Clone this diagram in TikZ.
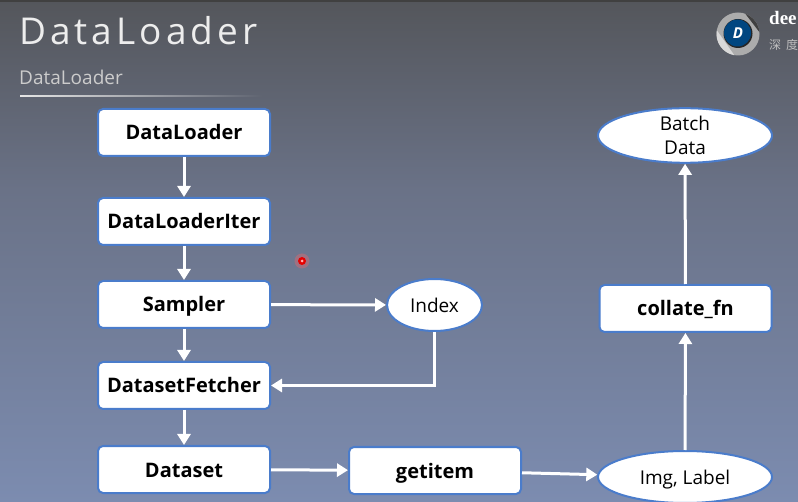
\documentclass[tikz,border=0pt]{standalone}
\usepackage{fontspec}
\setmainfont{Open Sans}
\newfontfamily\titlefont[LetterSpace=11]{Open Sans}
\newfontfamily\brandfont{Liberation Serif}
\newfontfamily\cjkfont{Noto Sans CJK SC}
\usetikzlibrary{arrows.meta,shapes.geometric}
\definecolor{slidetop}{HTML}{54565B}
\definecolor{slidemid}{HTML}{6A7287}
\definecolor{slidelow}{HTML}{7C8CB0}
\definecolor{boxline}{HTML}{4A7CCB}
\tikzset{
    procbox/.style={draw=boxline, line width=2pt, fill=white, rounded corners=5pt,
        minimum width=172pt, minimum height=47pt, inner sep=0pt, text height=19pt, text depth=4pt,
        font=\fontsize{20}{22}\selectfont\bfseries},
    dataoval/.style={ellipse, draw=boxline, line width=2pt, fill=white, inner sep=0pt,
        minimum width=174pt, minimum height=52pt, align=center, font=\fontsize{19}{24}\selectfont},
    flow/.style={draw=white, line width=3pt, -{Triangle[length=11pt,width=13pt]}}
}
\begin{document}
\begin{tikzpicture}[x=1pt, y=-1pt]

    % Fix the page to the size of the slide
    \useasboundingbox (0,0) rectangle (798,502);
    \clip (0,0) rectangle (798,502);

    % Slide background
    \shade[top color=slidetop, bottom color=slidemid] (0,0) rectangle (798,190);
    \shade[top color=slidemid, bottom color=slidelow] (0,190) rectangle (798,502);
    \fill[black!75] (0,0) rectangle (798,2);

    % Title and subtitle
    \node[anchor=base west, inner sep=0pt, text=white!93!black, font=\fontsize{37}{40}\selectfont\titlefont] (title) at (19,45) {DataLoader};
    \node[anchor=base west, inner sep=0pt, text=white!80!black, font=\fontsize{19}{22}\selectfont] (subtitle) at (19,85) {DataLoader};
    \shade[left color=white!90!black, right color=slidetop!50!slidemid] (20,95.5) rectangle (262,97);

    % Logo in the top right corner
    \fill[gray!65] (738,34) circle (21.5);
    \fill[black!75] (738,34) ++(-70:21.5) arc (-70:-5:21.5) -- cycle;
    \fill[white!85!black] (738,34) ++(100:21.5) arc (100:190:21.5) -- cycle;
    \fill[black!85] (738,33.5) circle (14.5);
    \fill[blue!45!cyan!50!black] (737.5,33) circle (13.5);
    \node[text=white, font=\fontsize{15}{16}\selectfont\bfseries\itshape, inner sep=0pt] (logoD) at (738,33) {D};
    \node[anchor=base west, inner sep=0pt, text=white, font=\fontsize{19}{20}\selectfont\bfseries\brandfont] (brand) at (769,25) {dee};
    \node[anchor=base west, inner sep=0pt, text=white!75!black, font=\fontsize{12}{14}\selectfont\cjkfont] (brandcn) at (769,50) {深\hspace{5pt}度};

    % Laser pointer dot
    \fill[red!60!white, opacity=.35] (302,261) circle (7.5);
    \fill[red!90!black] (302,261) circle (4);
    \fill[white!70!red] (302,261) circle (1.5);

    % Left column
    \node[procbox] (loader) at (184,132.5) {DataLoader};
    \node[procbox] (iter) at (184,221.5) {DataLoaderIter};
    \node[procbox] (sampler) at (184,304.5) {Sampler};
    \node[procbox] (fetcher) at (184,385.5) {DatasetFetcher};
    \node[procbox] (dataset) at (184,469.5) {Dataset};

    % Middle nodes
    \node[dataoval, minimum width=95pt] (index) at (434.5,305) {Index};
    \node[procbox] (getitem) at (435,470.5) {getitem};

    % Right column
    \node[dataoval, text height=14pt, text depth=0pt] (imglabel) at (685,477) {Img, Label};
    \node[procbox] (collate) at (685.5,308.5) {collate\_fn};
    \node[dataoval, minimum height=54pt] (batch) at (685,135.5) {Batch\\Data};

    % Arrows down the left column
    \draw[flow] (loader) -- (iter);
    \draw[flow] (iter) -- (sampler);
    \draw[flow] (sampler) -- (index);
    \draw[flow] (sampler) -- (fetcher);
    \draw[flow] (fetcher) -- (dataset);

    % Index comes back into the fetcher
    \draw[flow] (index.south) |- (fetcher.east);

    % Arrows along the bottom and up the right column
    \draw[flow] (dataset) -- (getitem);
    \draw[flow] (getitem) -- (imglabel);
    \draw[flow] (imglabel) -- (collate);
    \draw[flow] (collate) -- (batch);

\end{tikzpicture}
\end{document}
